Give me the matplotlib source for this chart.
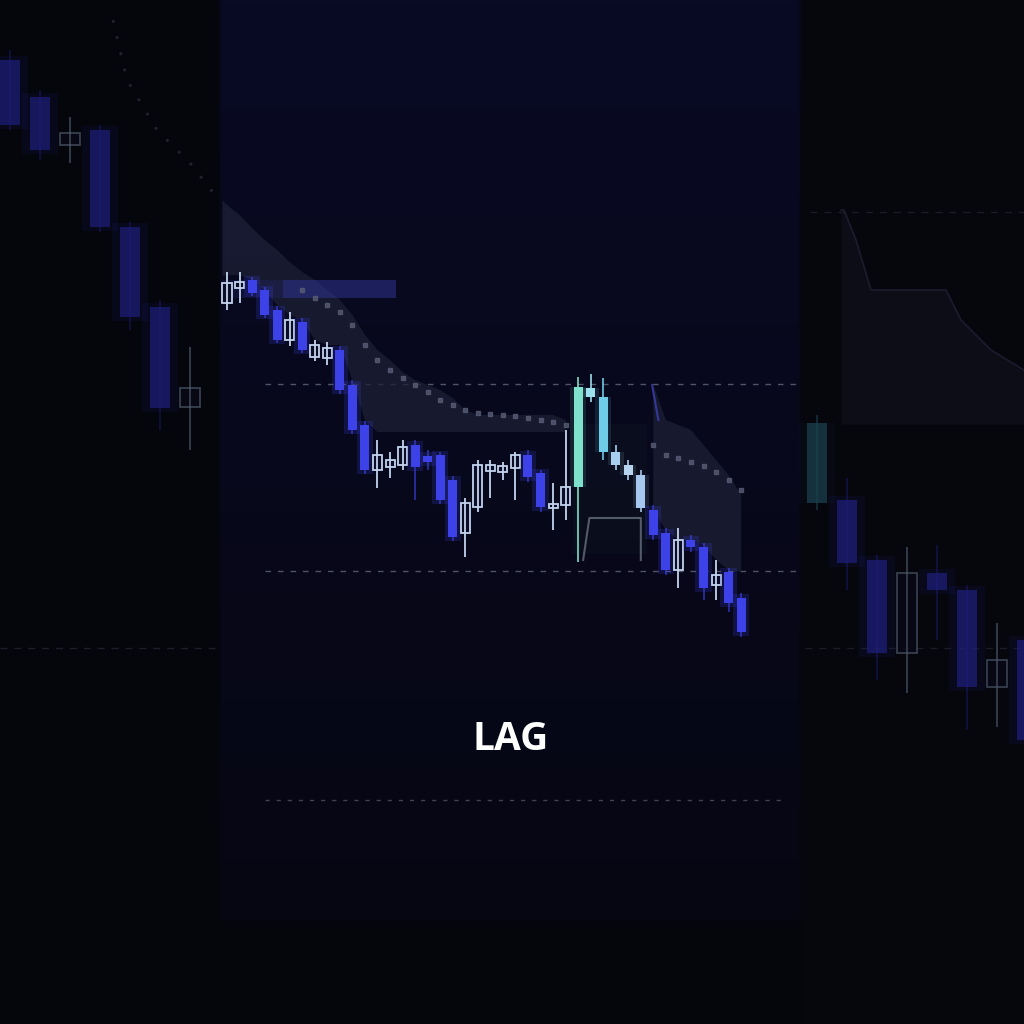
import numpy as np
import matplotlib
matplotlib.use("Agg")
import matplotlib.pyplot as plt

# ---------------- DATA ----------------
# Prices are expressed on a 0..1024 scale (higher = higher on screen)
# Center panel candles (bright)
c_open  = [721, 736, 744, 734, 714, 684, 702, 667, 666, 674, 639, 599, 554, 557, 559, 579,
           568, 569, 544, 491, 517, 553, 552, 556, 569, 551, 516, 519, 537, 636, 627, 572,
           559, 549, 514, 491, 454, 484, 477, 439, 452, 426]
c_close = [741, 742, 731, 709, 684, 704, 674, 679, 676, 634, 594, 554, 569, 564, 577, 557,
           562, 524, 487, 521, 559, 559, 558, 569, 547, 517, 520, 537, 637, 627, 572, 559,
           549, 516, 489, 454, 484, 477, 436, 449, 421, 392]
c_high  = [752, 752, 747, 737, 718, 712, 706, 684, 682, 678, 644, 603, 584, 572, 584, 584,
           574, 572, 548, 526, 564, 564, 562, 572, 574, 554, 541, 594, 647, 650, 646, 579,
           564, 554, 519, 496, 496, 489, 481, 464, 456, 431]
c_low   = [714, 721, 728, 706, 681, 678, 671, 663, 659, 630, 590, 550, 536, 546, 554, 524,
           554, 520, 483, 467, 512, 526, 544, 524, 542, 512, 494, 504, 462, 622, 564, 554,
           544, 512, 484, 449, 436, 472, 424, 424, 412, 387]
highlight = [28, 29, 30, 31, 32, 33]          # cyan reversal cluster

# indicator cloud (center) per candle index
band_top = [819, 809, 796, 784, 774, 762, 752, 744, 734, 724, 709, 689, 674, 664, 652, 644,
            639, 634, 626, 614, 609, 609, 609, 609, 609, 609, 609, 604, np.nan, np.nan, np.nan,
            np.nan, np.nan, np.nan, 639, 604, 599, 594, 579, 564, 549, 529]
band_bot = [749, 749, 744, 734, 719, 709, 704, 684, 679, 679, 644, 604, 592, 592, 592, 592,
            592, 592, 592, 592, 592, 592, 592, 592, 592, 592, 592, 592, np.nan, np.nan, np.nan,
            np.nan, np.nan, np.nan, 514, 494, 484, 484, 479, 464, 454, 452]
trail_idx = list(range(6, 28)) + list(range(34, 42))
trail_val = [734, 726, 719, 712, 699, 679, 664, 654, 646, 639, 632, 624, 619, 614, 611, 610,
             609, 608, 606, 604, 602, 599, 579, 569, 566, 562, 558, 552, 544, 534]
zone = (4.5, 13.5, 726, 744)                 # highlighted zone: x0, x1, low, high
step_x = [28.4, 28.9, 33.0, 33.0]
step_y = [464, 506, 506, 464]

# left panel candles (faded)
l_open  = [964, 927, 879, 894, 797, 717, 617]
l_close = [899, 874, 891, 797, 707, 616, 636]
l_high  = [974, 934, 907, 899, 802, 724, 677]
l_low   = [894, 864, 861, 792, 694, 594, 574]
l_trail_x = [3.43, 3.9, 4.9, 6.0, 6.83]
l_trail_y = [1004, 944, 894, 861, 829]

# right panel candles (faded)
r_open  = [521, 524, 464, 371, 451, 434, 337, 384]
r_close = [601, 461, 371, 451, 434, 337, 364, 284]
r_high  = [609, 546, 469, 477, 479, 439, 401, 394]
r_low   = [514, 434, 344, 331, 384, 294, 297, 264]
r_band_x = [0.8, 0.9, 1.3, 1.8, 2.1, 4.3, 4.8, 5.8, 6.9]
r_band_t = [814, 814, 784, 734, 734, 734, 704, 674, 654]
r_band_b = [600, 600, 600, 600, 600, 600, 600, 600, 600]

dash_levels = [640, 453, 224]
title = "LAG"

# ---------------- FIGURE ----------------
fig = plt.figure(figsize=(10.24, 10.24), dpi=100)
fig.patch.set_facecolor("#05050d")

# background
bg = fig.add_axes([0, 0, 1, 1], zorder=0)
H, W = 256, 256
img = np.zeros((H, W, 3))
img[:] = np.array([5, 5, 12]) / 255
yy = np.linspace(0, 1, H)[:, None]
cx0, cx1 = int(222 / 1024 * W), int(800 / 1024 * W)
top = np.array([9, 10, 36]) / 255
bot = np.array([6, 6, 17]) / 255
grad = top * (1 - yy) + bot * yy
grad[int(0.9 * H):] = np.array([5, 5, 12]) / 255
img[:, cx0:cx1] = np.repeat(grad[:, None, :], cx1 - cx0, axis=1)[:, :, :]
img[:, cx1:] = np.array([6, 6, 13]) / 255
bg.imshow(img, extent=[0, 1024, 0, 1024], aspect="auto", interpolation="bilinear")
bg.set_xlim(0, 1024); bg.set_ylim(0, 1024); bg.axis("off")

# dashed lines
bg.hlines(dash_levels[0], 265, 800, colors="#9aa0b8", linestyles=(0, (4, 5)), lw=1, alpha=0.5)
bg.hlines(dash_levels[1], 265, 800, colors="#9aa0b8", linestyles=(0, (4, 5)), lw=1, alpha=0.5)
bg.hlines(dash_levels[2], 265, 785, colors="#9aa0b8", linestyles=(0, (3, 5)), lw=1, alpha=0.4)
bg.hlines(376, 0, 215, colors="#4a4f60", linestyles=(0, (5, 5)), lw=1, alpha=0.35)
bg.hlines(376, 805, 1024, colors="#4a4f60", linestyles=(0, (5, 5)), lw=1, alpha=0.3)
bg.hlines(812, 810, 1024, colors="#4a4f60", linestyles=(0, (5, 5)), lw=1, alpha=0.3)


def make_axes(x0, s, z):
    ax = fig.add_axes([0, 0, 1, 1], zorder=z)
    ax.set_xlim(-x0 / s, (1024 - x0) / s)
    ax.set_ylim(0, 1024)
    ax.patch.set_alpha(0)
    ax.axis("off")
    return ax


def candles(ax, o, c, h, l, width, up_col, down_col, fill_dark, alpha=1.0,
            glow=True, hl=(), hl_cols=None):
    o, c, h, l = map(np.asarray, (o, c, h, l))
    x = np.arange(len(o))
    for i in x:
        lo, hi = min(o[i], c[i]), max(o[i], c[i])
        up = c[i] > o[i]
        if i in hl:
            col = hl_cols[hl.index(i)]
            ax.vlines(i, l[i], h[i], colors=col, lw=1.3, alpha=alpha * 0.9)
            ax.bar(i, hi - lo, bottom=lo, width=width * 1.8, color=col, alpha=0.12 * alpha, lw=0)
            ax.bar(i, hi - lo, bottom=lo, width=width, color=col, alpha=alpha, lw=0)
        elif up:
            ax.vlines(i, l[i], h[i], colors=up_col, lw=1.3, alpha=alpha)
            ax.bar(i, hi - lo, bottom=lo, width=width, facecolor=fill_dark,
                   edgecolor=up_col, lw=1.3, alpha=alpha)
        else:
            ax.vlines(i, l[i], h[i], colors=down_col, lw=1.2, alpha=alpha * 0.7)
            if glow:
                ax.bar(i, hi - lo + 8, bottom=lo - 4, width=width * 1.8, color=down_col,
                       alpha=0.2 * alpha, lw=0)
            ax.bar(i, hi - lo, bottom=lo, width=width, color=down_col, alpha=alpha, lw=0)


# left panel
axl = make_axes(10, 30, 1)
axl.plot(l_trail_x, l_trail_y, ls=(0, (1, 5)), color="#4a4f65", lw=2, alpha=0.4)
candles(axl, l_open, l_close, l_high, l_low, 0.68, "#4d5a6c", "#1d1e78", "#0a0a18", alpha=0.7)

# right panel
axr = make_axes(817, 30, 1)
axr.fill_between(r_band_x, r_band_b, r_band_t, color="#12131f", alpha=0.6, lw=0)
axr.plot(r_band_x, r_band_t, color="#22243a", lw=1.2, alpha=0.7)
candles(axr, r_open, r_close, r_high, r_low, 0.68, "#4a5668", "#1e1f7c", "#0a0a18",
        alpha=0.7, hl=[0], hl_cols=["#1a4250"])

# center panel
s = 12.54
axc = make_axes(227, s, 2)
idx = np.arange(len(c_open))
bt = np.array(band_top, dtype=float)
bb = np.array(band_bot, dtype=float)
axc.fill_between(idx, bb, bt, where=~np.isnan(bt), color="#1d2036", alpha=0.75, lw=0)
axc.fill_between([-0.4, 0], [749, 749], [824, 819], color="#1d2036", alpha=0.75, lw=0)
axc.plot([33.9, 34.4], [639, 604], color="#3c3fb0", lw=1.5, alpha=0.8)
axc.add_patch(plt.Rectangle((zone[0], zone[2]), zone[1] - zone[0], zone[3] - zone[2],
                            color="#2e3390", alpha=0.55, lw=0))
axc.add_patch(plt.Rectangle((-0.4, zone[2]), zone[0] + 0.4, zone[3] - zone[2],
                            color="#2e3390", alpha=0.2, lw=0))
axc.fill_between([27.6, 33.5], [470, 470], [600, 600], color="#16302c", alpha=0.15, lw=0)
axc.plot(trail_idx[:22], trail_val[:22], ls="none", marker="s", ms=2.5, color="#5b6078", alpha=0.75)
axc.plot(trail_idx[22:], trail_val[22:], ls="none", marker="s", ms=2.5, color="#5b6078", alpha=0.75)
axc.plot(step_x, step_y, color="#7b8494", lw=1.5, alpha=0.65)
candles(axc, c_open, c_close, c_high, c_low, 0.72, "#c3d3ee", "#3c42e8", "#0b0d24",
        hl=highlight, hl_cols=["#7fe0cc", "#9ee0ee", "#6fcde8", "#a8d0ee", "#b6d4f0", "#a6c8ee"])

# title text
tx = fig.add_axes([0, 0, 1, 1], zorder=3)
tx.set_xlim(0, 1024); tx.set_ylim(0, 1024); tx.axis("off"); tx.patch.set_alpha(0)
tx.text(511, 285, title, ha="center", va="center", color="white", fontsize=28,
        fontweight="bold", family=["Open Sans", "DejaVu Sans"])

fig.savefig("out.png", dpi=100, facecolor=fig.get_facecolor())
